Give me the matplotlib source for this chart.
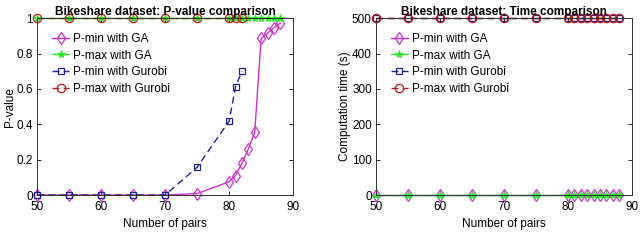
import matplotlib.pyplot as plt

plt.rcParams['font.family'] = ['Liberation Sans', 'DejaVu Sans']

# P-value comparison
pairs_ga = [50, 55, 60, 65, 70, 75, 80, 81, 82, 83, 84, 85, 86, 87, 88]
pmin_ga = [0, 0, 0, 0, 0, 0.008, 0.075, 0.11, 0.18, 0.26, 0.355, 0.885, 0.915, 0.945, 0.972]
pmax_ga = [1] * 15

pairs_gurobi = [50, 55, 60, 65, 70, 75, 80, 81, 82]
pmin_gurobi = [0, 0, 0, 0, 0, 0.157, 0.418, 0.612, 0.70]
pmax_gurobi = [1] * 9

# Time comparison (s)
pairs_time = [50, 55, 60, 65, 70, 75, 80, 81, 82, 83, 84, 85, 86, 87, 88]
tmin_ga = [1, 1, 1, 1, 1, 1, 1, 1, 1, 1, 1, 1, 1, 1, 1]
tmax_ga = [1, 1, 1, 1, 1, 1, 1, 1, 1, 1, 1, 1, 1, 1, 1]
tmin_gurobi = [500] * 15
tmax_gurobi = [500] * 15

labels = ['P-min with GA', 'P-max with GA', 'P-min with Gurobi', 'P-max with Gurobi']

MAG = '#d030d0'
GRN = '#22ee22'
BLU = '#20209a'
RED = '#c01818'
FS = 8.5

fig = plt.figure(figsize=(6.4, 2.45), dpi=100)
ax1 = fig.add_axes([0.058, 0.204, 0.400, 0.722])
ax2 = fig.add_axes([0.5875, 0.204, 0.400, 0.722])


def style_axes(ax):
    ax.tick_params(direction='in', length=3, width=0.6, labelsize=FS, top=True, right=True,
                   labeltop=False, labelright=False)
    ax.tick_params(axis='x', pad=4)
    ax.tick_params(axis='y', pad=3)
    for s in ax.spines.values():
        s.set_linewidth(0.7)
        s.set_color('#333333')
    ax.set_xlim(50, 90)
    ax.set_xticks([50, 60, 70, 80, 90])


def draw(ax, x1, y1, x2, y2, x3, y3, x4, y4):
    ax.plot(x1, y1, '-', color=MAG, lw=1.0, marker='d', ms=6, mfc='none', mec=MAG, mew=0.9, clip_on=False, label=labels[0])
    ax.plot(x2, y2, '-', color=GRN, lw=1.0, marker='*', ms=6, mfc=GRN, mec=GRN, mew=0.6, clip_on=False, label=labels[1])
    ax.plot(x3, y3, '--', color=BLU, lw=1.0, marker='s', ms=4.8, mfc='none', mec=BLU, mew=0.9, clip_on=False,
            dashes=(5, 3), label=labels[2])
    ax.plot(x4, y4, '--', color=RED, lw=1.0, marker='o', ms=6, mfc='none', mec=RED, mew=0.9, clip_on=False,
            dashes=(5, 3), label=labels[3])
    ax.legend(loc='upper left', frameon=False, fontsize=FS, handlelength=1.5, handletextpad=0.3,
              labelspacing=0.4, borderaxespad=0.4, bbox_to_anchor=(0.02, 0.97))


draw(ax1, pairs_ga, pmin_ga, pairs_ga, pmax_ga, pairs_gurobi, pmin_gurobi, pairs_gurobi, pmax_gurobi)
style_axes(ax1)
ax1.set_ylim(0, 1)
ax1.set_yticks([0, 0.2, 0.4, 0.6, 0.8, 1])
ax1.set_yticklabels(['0', '0.2', '0.4', '0.6', '0.8', '1'])
ax1.set_title('Bikeshare dataset: P-value comparison', fontsize=FS, fontweight='bold', pad=2)
ax1.set_xlabel('Number of pairs', fontsize=FS, labelpad=4)
ax1.set_ylabel('P-value', fontsize=FS, labelpad=0.5)

draw(ax2, pairs_time, tmin_ga, pairs_time, tmax_ga, pairs_time, tmin_gurobi, pairs_time, tmax_gurobi)
style_axes(ax2)
ax2.set_ylim(0, 500)
ax2.set_yticks([0, 100, 200, 300, 400, 500])
ax2.set_title('Bikeshare dataset: Time comparison', fontsize=FS, fontweight='bold', pad=2)
ax2.set_xlabel('Number of pairs', fontsize=FS, labelpad=4)
ax2.set_ylabel('Computation time (s)', fontsize=FS, labelpad=0.5)

fig.savefig('out.png', dpi=100)
